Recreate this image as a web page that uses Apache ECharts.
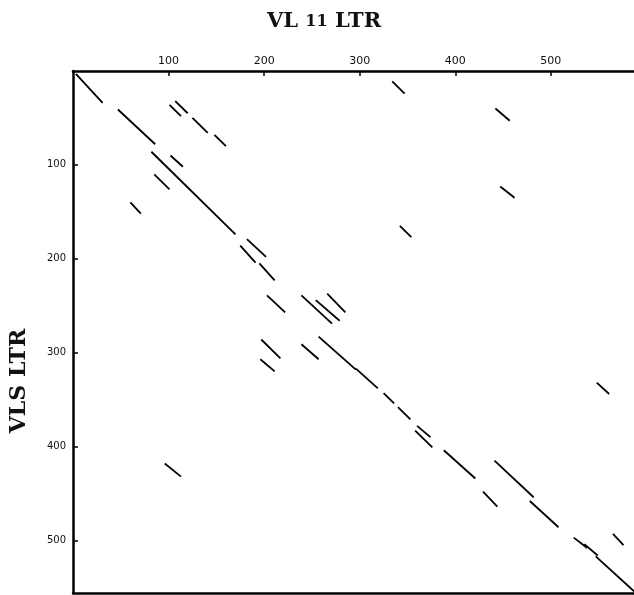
<!DOCTYPE html>
<html>
<head>
<meta charset="utf-8">
<script src="https://cdn.jsdelivr.net/npm/echarts@6/dist/echarts.min.js"></script>
<style>
  html, body { margin: 0; padding: 0; background: #fff; overflow: hidden; }
  #chart { width: 634px; height: 595px; }
</style>
</head>
<body>
<div id="chart"></div>
<script>
// 点阵图: VL 11 LTR (横) 对 VLS LTR (纵)
var xTicks = [100, 200, 300, 400, 500];
var yTicks = [100, 200, 300, 400, 500];

// 主对角线上的片段 [x1, y1, x2, y2]
var diagonalSegments = [
  [3, 3, 31, 34],
  [47, 41, 86, 78],
  [82, 86, 170, 174],
  [175, 186, 191, 204],
  [195, 205, 211, 223],
  [257, 283, 296, 318],
  [296, 317, 319, 338],
  [325, 343, 336, 354],
  [340, 358, 353, 371],
  [358, 383, 376, 401],
  [388, 404, 421, 434],
  [429, 448, 444, 464],
  [478, 458, 508, 486],
  [524, 497, 538, 508],
  [535, 504, 549, 516],
  [547, 517, 588, 555]
];

// 其它重复片段
var repeatSegments = [
  [101, 36, 113, 48],
  [107, 32, 120, 45],
  [125, 50, 141, 66],
  [148, 68, 160, 80],
  [102, 90, 115, 102],
  [85, 110, 101, 126],
  [60, 140, 71, 152],
  [182, 179, 202, 198],
  [203, 239, 222, 257],
  [239, 239, 271, 269],
  [254, 244, 279, 266],
  [266, 237, 285, 257],
  [197, 286, 217, 306],
  [196, 307, 211, 320],
  [239, 291, 257, 307],
  [360, 378, 374, 390],
  [441, 415, 482, 454],
  [565, 493, 576, 505],
  [548, 332, 561, 344],
  [96, 418, 113, 432],
  [334, 11, 347, 24],
  [442, 40, 457, 53],
  [447, 123, 462, 135],
  [342, 165, 354, 177]
];

function toLines(list) {
  var out = [];
  for (var i = 0; i < list.length; i++) {
    out.push({ coords: [[list[i][0], list[i][1]], [list[i][2], list[i][3]]] });
  }
  return out;
}

var myChart = echarts.init(document.getElementById('chart'));

var option = {
  animation: false,
  backgroundColor: '#fff',
  title: {
    text: '{a|VL }{b|11}{a| LTR}',
    left: 262,
    top: 6,
    textStyle: {
      rich: {
        a: { fontFamily: 'DejaVu Serif', fontWeight: 'bold', fontSize: 21, color: '#111' },
        b: { fontFamily: 'DejaVu Serif', fontWeight: 'bold', fontSize: 16, color: '#111' }
      }
    }
  },
  graphic: [{
    type: 'text',
    x: 8,
    y: 381,
    rotation: Math.PI / 2,
    style: {
      text: 'VLS LTR',
      fontFamily: 'DejaVu Serif',
      fontWeight: 'bold',
      fontSize: 22,
      fill: '#111',
      align: 'center',
      verticalAlign: 'top'
    }
  }],
  grid: {
    left: 73,
    top: 71,
    right: 0,
    bottom: 2
  },
  xAxis: [{
    type: 'value',
    position: 'top',
    min: 0,
    max: 587,
    interval: 100,
    splitLine: { show: false },
    axisLine: { lineStyle: { color: '#000', width: 2.5 } },
    axisTick: { inside: true, length: 5, customValues: xTicks, lineStyle: { color: '#000', width: 1.5 } },
    axisLabel: {
      margin: 4,
      fontSize: 11,
      fontFamily: 'DejaVu Sans',
      color: '#111',
      customValues: xTicks
    }
  }, {
    // 底边框
    type: 'value',
    position: 'bottom',
    min: 0,
    max: 587,
    splitLine: { show: false },
    axisLine: { onZero: false, lineStyle: { color: '#000', width: 2.5 } },
    axisTick: { show: false },
    axisLabel: { show: false }
  }],
  yAxis: {
    type: 'value',
    inverse: true,
    min: 0,
    max: 556,
    interval: 100,
    splitLine: { show: false },
    axisLine: { lineStyle: { color: '#000', width: 2.5 } },
    axisTick: { inside: true, length: 5, customValues: yTicks, lineStyle: { color: '#000', width: 1.5 } },
    axisLabel: {
      margin: 7,
      fontSize: 10,
      fontFamily: 'DejaVu Sans',
      color: '#111',
      customValues: yTicks
    }
  },
  series: [{
    name: 'diagonal',
    type: 'lines',
    coordinateSystem: 'cartesian2d',
    xAxisIndex: 0,
    silent: true,
    lineStyle: { color: '#000', width: 1.8, opacity: 1 },
    data: toLines(diagonalSegments)
  }, {
    name: 'repeat',
    type: 'lines',
    coordinateSystem: 'cartesian2d',
    xAxisIndex: 0,
    silent: true,
    lineStyle: { color: '#000', width: 1.8, opacity: 1 },
    data: toLines(repeatSegments)
  }]
};

myChart.setOption(option);
</script>
</body>
</html>
